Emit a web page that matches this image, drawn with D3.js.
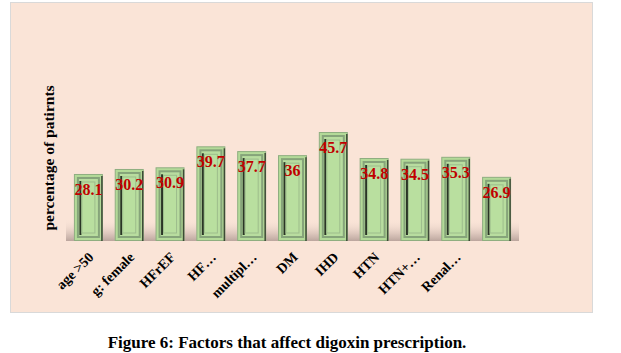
<!DOCTYPE html>
<html>
<head>
<meta charset="utf-8">
<script src="https://cdn.jsdelivr.net/npm/d3@7"></script>
<style>
  body { margin: 0; background: #fff; }
  svg { display: block; }
</style>
</head>
<body>
<svg id="chart"></svg>
<script>
// values
const categories = ["age >50", "g: female", "HFrEF", "HF…", "multipl…", "DM", "IHD", "HTN", "HTN+…", "Renal…", "other"];
const tickLabels = ["age >50", "g: female", "HFrEF", "HF…", "multipl…", "DM", "IHD", "HTN", "HTN+…", "Renal…", ""];
const values = [28.1, 30.2, 30.9, 39.7, 37.7, 36, 45.7, 34.8, 34.5, 35.3, 26.9];
const valueLabels = ["28.1", "30.2", "30.9", "39.7", "37.7", "36", "45.7", "34.8", "34.5", "35.3", "26.9"];

const W = 621, H = 353;
const base = 241;

const svg = d3.select("#chart")
    .attr("width", W)
    .attr("height", H);

// panel
svg.append("rect")
    .attr("x", 10.5).attr("y", 2.5)
    .attr("width", 582).attr("height", 310)
    .attr("fill", "#fae4d7")
    .attr("stroke", "#d9d9d9");

const x = d3.scaleBand()
    .domain(categories)
    .range([68, 517])
    .paddingInner(0.29)
    .paddingOuter(0.145);

const y = d3.scaleLinear()
    .domain([0, 50])
    .range([base, base - 119.25]);

// floor shadow
const defs = svg.append("defs");
const grad = defs.append("linearGradient")
    .attr("id", "floor")
    .attr("x1", 0).attr("y1", 0).attr("x2", 0).attr("y2", 1);
grad.append("stop").attr("offset", "0%").attr("stop-color", "#fae4d7").attr("stop-opacity", 0);
grad.append("stop").attr("offset", "75%").attr("stop-color", "#c4aea6").attr("stop-opacity", 0.7);
grad.append("stop").attr("offset", "100%").attr("stop-color", "#b09a93").attr("stop-opacity", 0.85);

svg.append("rect")
    .attr("x", x.range()[0] - 2)
    .attr("y", base - 22)
    .attr("width", x.range()[1] - x.range()[0] + 4)
    .attr("height", 22)
    .attr("fill", "url(#floor)");

// bars with a bevelled frame
const bars = svg.selectAll(".bar")
    .data(values)
    .enter()
    .append("g")
    .attr("class", "bar")
    .attr("transform", (d, i) => `translate(${x(categories[i])},${y(d)})`);

const bw = x.bandwidth();

bars.append("rect")
    .attr("x", 0.5).attr("y", 0.5)
    .attr("width", bw - 1)
    .attr("height", d => base - y(d) - 1)
    .attr("fill", "#b3da98")
    .attr("stroke", "#8fae80");

bars.append("line")
    .attr("x1", bw - 1).attr("x2", bw - 1)
    .attr("y1", 2).attr("y2", d => base - y(d))
    .attr("stroke", "#3d4a36")
    .attr("stroke-width", 1.5);

bars.append("rect")
    .attr("x", 4).attr("y", 4)
    .attr("width", bw - 8)
    .attr("height", d => base - y(d) - 8)
    .attr("fill", "#b8dd9f")
    .attr("stroke", "#86a47a")
    .attr("stroke-width", 2);

bars.append("line")
    .attr("x1", 6.5).attr("x2", 6.5)
    .attr("y1", 7).attr("y2", d => base - y(d) - 6)
    .attr("stroke", "#2a3526")
    .attr("stroke-width", 2);

bars.append("rect")
    .attr("x", 8).attr("y", 8)
    .attr("width", bw - 16)
    .attr("height", d => base - y(d) - 16)
    .attr("fill", "#b9df9f")
    .attr("stroke", "#9dbd8c")
    .attr("stroke-width", 1);

// value labels
bars.append("text")
    .attr("x", bw / 2)
    .attr("y", 21)
    .attr("text-anchor", "middle")
    .style("font-family", "'Liberation Serif', 'Times New Roman', serif")
    .style("font-weight", "bold")
    .style("font-size", "16px")
    .attr("fill", "#c00000")
    .text((d, i) => valueLabels[i]);

// x axis labels
const xAxis = d3.axisBottom(x)
    .tickSize(0)
    .tickFormat((d, i) => tickLabels[i]);

const gx = svg.append("g")
    .attr("transform", `translate(0,${base})`)
    .call(xAxis);
gx.select(".domain").remove();
gx.selectAll("text")
    .style("font-family", "'Liberation Serif', 'Times New Roman', serif")
    .style("font-weight", "bold")
    .style("font-size", "14px")
    .attr("fill", "#000")
    .attr("text-anchor", "end")
    .attr("x", 0).attr("y", 0).attr("dy", 0)
    .attr("transform", "translate(6,17) rotate(-45)");

// y axis title
svg.append("text")
    .attr("transform", "translate(54,158) rotate(-90)")
    .attr("text-anchor", "middle")
    .style("font-family", "'Liberation Serif', 'Times New Roman', serif")
    .style("font-weight", "bold")
    .style("font-size", "15.5px")
    .text("percentage of patirnts");

// caption
svg.append("text")
    .attr("x", 287)
    .attr("y", 348)
    .attr("text-anchor", "middle")
    .style("font-family", "'Liberation Serif', 'Times New Roman', serif")
    .style("font-weight", "bold")
    .style("font-size", "17px")
    .text("Figure 6: Factors that affect digoxin prescription.");
</script>
</body>
</html>
